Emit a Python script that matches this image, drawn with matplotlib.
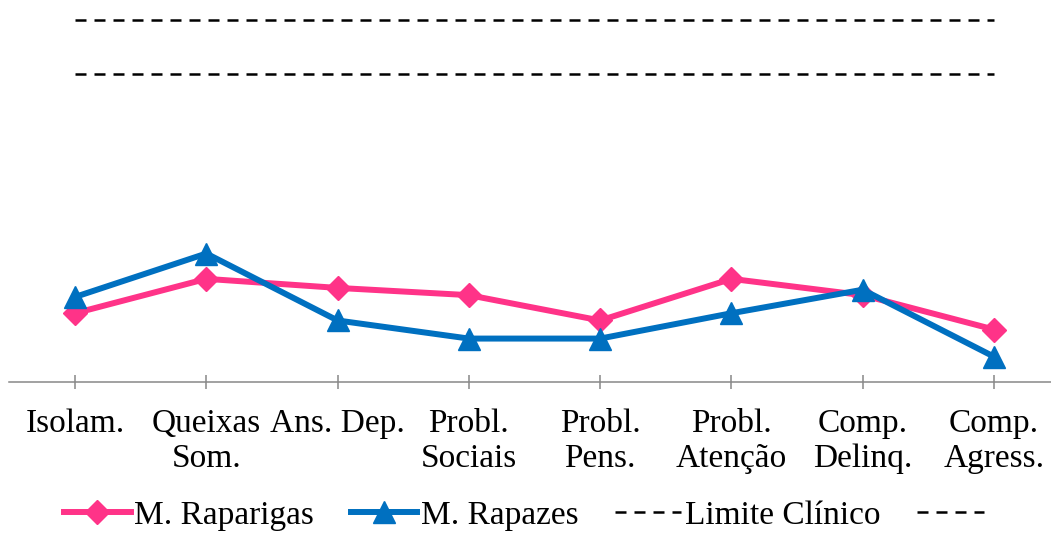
import numpy as np
import matplotlib
matplotlib.use("Agg")
import matplotlib.pyplot as plt

plt.rcParams['font.family'] = ['Liberation Serif', 'DejaVu Serif']

# escalas (T)
categorias = ["Isolam.", "Queixas\nSom.", "Ans. Dep.", "Probl.\nSociais",
              "Probl.\nPens.", "Probl.\nAtenção", "Comp.\nDelinq.", "Comp.\nAgress."]
raparigas = [53.8, 55.7, 55.2, 54.8, 53.4, 55.7, 54.8, 52.9]
rapazes = [54.7, 57.1, 53.4, 52.4, 52.4, 53.8, 55.1, 51.4]
limite_clinico = [67] * 8
limite_clinico_2 = [70] * 8

x = np.arange(len(categorias))

fig = plt.figure(figsize=(10.51, 5.37), dpi=100)
ax = fig.add_axes([9.4 / 1051, 1 - 382 / 537, 1050.2 / 1051, 380 / 537])

l1, = ax.plot(x, raparigas, color='#FF3388', lw=4.3, marker='D', ms=12,
              label='M. Raparigas')
l2, = ax.plot(x, rapazes, color='#0070C0', lw=4.3, marker='^', ms=16,
              label='M. Rapazes')
l3, = ax.plot(x, limite_clinico, color='black', lw=1.8, dashes=(4.4, 3.2),
              label='Limite Clínico')
l4, = ax.plot(x, limite_clinico_2, color='black', lw=1.8, dashes=(4.4, 3.2),
              label='')

ax.set_xlim(-0.5, 7.5)
ax.set_ylim(50, 71)
ax.set_xticks(x)
ax.set_xticklabels(categorias, fontsize=24, linespacing=1.2)
ax.set_yticks([])
for s in ['top', 'left', 'right']:
    ax.spines[s].set_visible(False)
ax.spines['bottom'].set_color('#888888')
ax.spines['bottom'].set_linewidth(1.1)
ax.spines['bottom'].set_clip_on(False)
ax.tick_params(axis='x', direction='inout', length=10, width=1.1,
               color='#888888', pad=14)

fig.legend([l1, l2, l3, l4], ['M. Raparigas', 'M. Rapazes', 'Limite Clínico', ''],
           loc='lower center', bbox_to_anchor=(0.5, -0.045), ncol=4, frameon=False,
           fontsize=24, handlelength=2.0, handletextpad=0.1, columnspacing=1.1)

fig.savefig('out.png', dpi=100)
